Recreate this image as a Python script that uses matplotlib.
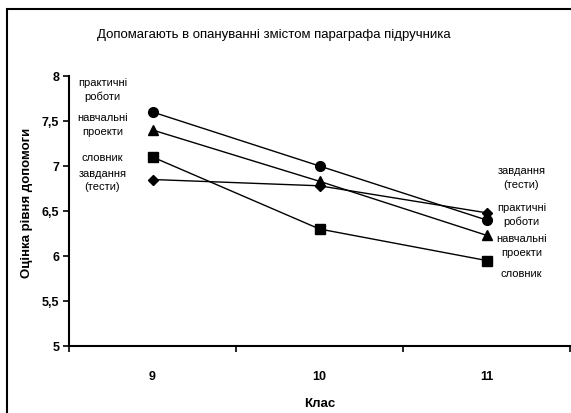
import matplotlib
matplotlib.use('Agg')
import matplotlib.pyplot as plt
from matplotlib.patches import Rectangle
from matplotlib import font_manager

# data
classes = ['9', '10', '11']
practical = [7.6, 7.0, 6.4]      # практичні роботи
projects = [7.4, 6.83, 6.23]     # навчальні проекти
vocabulary = [7.1, 6.3, 5.95]    # словник
tasks = [6.85, 6.78, 6.48]       # завдання (тести)

series_names = ['практичні\nроботи', 'навчальні\nпроекти', 'словник', 'завдання\n(тести)']
yticks = [5, 5.5, 6, 6.5, 7, 7.5, 8]

names = {f.name for f in font_manager.fontManager.ttflist}
fam = 'Liberation Sans Narrow' if 'Liberation Sans Narrow' in names else 'Liberation Sans'
plt.rcParams['font.family'] = [fam, 'DejaVu Sans']

fig = plt.figure(figsize=(5.71, 4.14), dpi=100)
ax = fig.add_axes([69 / 571, 1 - 347 / 414, 501 / 571, 270 / 414])

x = range(len(classes))
markers = ['o', '^', 's', 'D']
sizes = [7, 7, 7, 5.5]
all_series = [practical, projects, vocabulary, tasks]
for vals, m, ms in zip(all_series, markers, sizes):
    ax.plot(x, vals, color='black', lw=1, marker=m, ms=ms)

# text labels beside first and last points (offsets in pixels)
left_off = [(-50, 23), (-50, 6), (-50, 0), (-50, 0)]
right_off = [(35, 6), (35, -10), (35, -13), (35, 36)]
for vals, name, lo, ro in zip(all_series, series_names, left_off, right_off):
    ax.annotate(name, (0, vals[0]), xytext=lo, textcoords='offset pixels',
                ha='center', va='center', fontsize=8, linespacing=1.45)
    ax.annotate(name, (2, vals[-1]), xytext=ro, textcoords='offset pixels',
                ha='center', va='center', fontsize=8, linespacing=1.45)

ax.set_xlim(-0.5, 2.5)
ax.set_ylim(5, 8)
ax.set_xticks(list(x))
ax.set_xticklabels(classes, fontsize=9, fontweight='bold')
ax.set_xticks([-0.5, 0.5, 1.5, 2.5], minor=True)
ax.tick_params(axis='x', which='major', length=0, pad=17)
ax.tick_params(axis='x', which='minor', length=4, width=1.2, direction='out')
ax.set_yticks(yticks)
ax.set_yticklabels([str(t).replace('.', ',').replace(',0', '') for t in yticks],
                   fontsize=9, fontweight='bold')
ax.tick_params(axis='y', length=4, width=1.2, direction='out', pad=3)

for s in ['top', 'right']:
    ax.spines[s].set_visible(False)
for s in ['left', 'bottom']:
    ax.spines[s].set_linewidth(1.5)

ax.set_xlabel('Клас', fontsize=9.5, fontweight='bold', labelpad=11)
ax.set_ylabel('Оцінка рівня допомоги', fontsize=9.5, fontweight='bold', va='center')
ax.yaxis.set_label_coords(-0.084, 0.533)
fig.text(274 / 571, 1 - 35 / 414, 'Допомагають в опануванні змістом параграфа підручника',
         ha='center', va='center', fontsize=9.5)

# outer chart frame (cut at the right and bottom edges)
fig.patches.append(Rectangle((7 / 571, -0.1), 2, 1.1 - 10 / 414, transform=fig.transFigure,
                             fill=False, edgecolor='black', lw=1.5))

fig.savefig('out.png', dpi=100)
